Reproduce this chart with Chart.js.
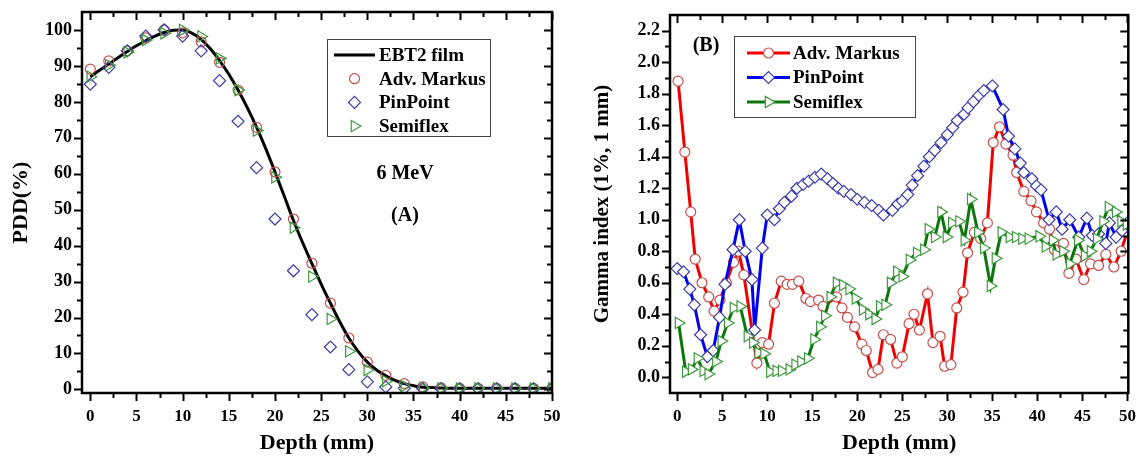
<!DOCTYPE html>
<html>
<head>
<meta charset="utf-8">
<title>PDD and gamma index</title>
<script src="https://cdn.jsdelivr.net/npm/chart.js@4.4.1/dist/chart.umd.min.js"></script>
<style>
  html, body { margin: 0; padding: 0; background: #fff; }
  #wrap { position: relative; width: 1136px; height: 457px; overflow: hidden; }
  .panel { position: absolute; top: 0; width: 568px; height: 457px; }
</style>
</head>
<body>
<div id="wrap">
  <div class="panel" style="left:0"><canvas id="pdd" width="568" height="457"></canvas></div>
  <div class="panel" style="left:568px"><canvas id="gamma" width="568" height="457"></canvas></div>
</div>
<script>
// ---- Panel (A): percentage depth dose, 6 MeV ----
const depthA = [0, 2, 4, 6, 8, 10, 12, 14, 16, 18, 20, 22, 24, 26, 28, 30, 32, 34, 36, 38, 40, 42, 44, 46, 48, 50];
const markusA = [89.1, 91.4, 94.2, 97.8, 100, 99.2, 96.7, 91, 83.3, 72.9, 60.5, 47.4, 35.1, 24, 14.3, 7.6, 3.9, 1.6, 0.7, 0.4, 0.3, 0.3, 0.3, 0.3, 0.3, 0.3];
const pinpointA = [84.9, 89.6, 94.2, 98.3, 100, 98.3, 94.2, 85.9, 74.6, 61.7, 47.4, 33, 20.8, 11.8, 5.5, 2.1, 0.7, 0.3, 0.2, 0.2, 0.2, 0.2, 0.2, 0.2, 0.2, 0.2];
const semiflexA = [87, 90.2, 93.8, 97.2, 99.1, 100, 98.2, 92.1, 83.3, 72, 59, 45, 31.4, 19.6, 10.6, 5.4, 2.3, 0.9, 0.4, 0.3, 0.3, 0.3, 0.3, 0.3, 0.3, 0.3];
const filmDepth = [0, 1, 2, 3, 4, 5, 6, 7, 8, 9, 10, 11, 12, 13, 14, 15, 16, 17, 18, 19, 20, 21, 22, 23, 24, 25, 26, 27, 28, 29, 30, 31, 32, 33, 34, 35, 36, 37, 38, 40, 42, 44, 46, 48, 50];
const filmPdd = [87, 88.8, 90.5, 92.3, 94, 95.6, 97, 98.3, 99.3, 99.9, 100, 99.1, 97.4, 94.8, 91.5, 87.7, 83.3, 78.4, 73, 67, 60.5, 53.8, 47, 40.8, 35, 29.3, 24, 18.9, 14.3, 10.6, 7.6, 5.4, 3.8, 2.5, 1.6, 1, 0.6, 0.5, 0.4, 0.3, 0.3, 0.3, 0.3, 0.3, 0.3];

// ---- Panel (B): gamma index (1%, 1 mm) ----
const markusDepthB = [0.1, 0.85, 1.5, 2.0, 2.75, 3.5, 4.1, 4.75, 5.45, 6.25, 6.8, 7.4, 8.85, 9.45, 10.15, 10.8, 11.55, 12.2, 12.8, 13.5, 14.3, 14.8, 15.7, 16.2, 17.7, 18.3, 18.9, 19.7, 20.5, 21.0, 21.7, 22.3, 22.9, 23.7, 24.4, 25.0, 25.75, 26.3, 26.9, 27.8, 28.4, 29.2, 29.7, 30.4, 31.05, 31.75, 32.25, 33.0, 33.7, 34.45, 35.1, 35.8, 36.5, 37.3, 37.7, 38.5, 39.3, 39.9, 40.7, 41.35, 41.9, 42.9, 43.5, 44.3, 45.15, 45.9, 46.8, 47.6, 48.5, 49.3, 49.95];
const markusGammaB = [1.88, 1.43, 1.05, 0.75, 0.60, 0.51, 0.42, 0.49, 0.60, 0.73, 0.80, 0.65, 0.09, 0.22, 0.21, 0.47, 0.61, 0.59, 0.59, 0.61, 0.50, 0.48, 0.49, 0.45, 0.51, 0.44, 0.38, 0.32, 0.21, 0.17, 0.03, 0.05, 0.27, 0.24, 0.09, 0.13, 0.34, 0.40, 0.30, 0.53, 0.22, 0.26, 0.07, 0.08, 0.44, 0.54, 0.79, 0.92, 0.88, 0.98, 1.49, 1.59, 1.48, 1.41, 1.30, 1.18, 1.12, 1.05, 0.98, 0.94, 0.81, 0.85, 0.66, 0.75, 0.62, 0.72, 0.71, 0.78, 0.70, 0.80, 0.92];

const pinpointDepthB = [0.0, 0.7, 1.4, 1.9, 2.6, 3.35, 4.0, 4.7, 5.3, 6.2, 6.9, 7.55, 8.3, 8.6, 9.45, 10.0, 10.8, 11.35, 11.9, 12.7, 13.3, 14.0, 14.6, 15.3, 16.0, 16.7, 17.3, 17.9, 18.5, 19.3, 20.0, 20.8, 21.6, 22.4, 22.9, 23.9, 24.5, 25.0, 25.6, 26.1, 26.7, 27.4, 28.0, 28.6, 29.3, 30.0, 30.6, 31.1, 31.85, 32.3, 32.9, 33.5, 34.05, 35.0, 36.2, 36.8, 37.5, 38.1, 38.5, 39.4, 39.9, 40.4, 41.3, 42.1, 42.75, 43.6, 44.6, 45.5, 46.1, 46.8, 47.6, 48.0, 48.75, 49.4, 50.0];
const pinpointGammaB = [0.69, 0.67, 0.56, 0.46, 0.27, 0.13, 0.17, 0.38, 0.59, 0.81, 1.00, 0.80, 0.62, 0.30, 0.82, 1.03, 1.00, 1.07, 1.11, 1.15, 1.20, 1.225, 1.245, 1.27, 1.29, 1.26, 1.23, 1.20, 1.18, 1.16, 1.13, 1.11, 1.09, 1.06, 1.03, 1.06, 1.10, 1.12, 1.16, 1.22, 1.28, 1.34, 1.40, 1.44, 1.49, 1.54, 1.585, 1.63, 1.67, 1.71, 1.75, 1.79, 1.82, 1.85, 1.70, 1.53, 1.45, 1.36, 1.30, 1.26, 1.215, 1.19, 1.00, 1.05, 0.94, 1.00, 0.89, 1.01, 0.90, 0.91, 0.85, 0.98, 0.89, 0.93, 0.98];

const semiflexDepthB = [0.15, 0.95, 1.6, 2.25, 2.9, 3.45, 4.3, 4.9, 5.6, 6.25, 7.0, 7.8, 8.4, 9.0, 9.65, 10.3, 11.0, 11.6, 12.45, 13.1, 13.75, 14.5, 15.2, 15.85, 16.4, 17.0, 17.7, 18.4, 19.1, 19.8, 20.6, 21.3, 22.0, 22.5, 23.1, 23.7, 24.4, 25.0, 25.8, 26.6, 27.4, 27.9, 28.6, 29.3, 29.9, 30.5, 31.3, 31.9, 32.6, 33.4, 34.05, 34.8, 35.35, 36.0, 36.9, 37.6, 38.3, 39.0, 40.2, 40.9, 41.7, 42.1, 42.85, 43.6, 44.5, 45.25, 45.9, 46.6, 47.3, 47.9, 48.7, 49.3, 49.9];
const semiflexGammaB = [0.345, 0.035, 0.05, 0.12, 0.04, 0.02, 0.10, 0.23, 0.345, 0.44, 0.45, 0.26, 0.22, 0.155, 0.15, 0.035, 0.04, 0.04, 0.05, 0.08, 0.10, 0.12, 0.24, 0.32, 0.39, 0.51, 0.60, 0.585, 0.56, 0.50, 0.43, 0.40, 0.37, 0.45, 0.46, 0.60, 0.67, 0.64, 0.745, 0.79, 0.81, 0.94, 0.89, 1.05, 0.89, 0.98, 0.99, 0.87, 1.13, 0.92, 0.82, 0.58, 0.755, 0.92, 0.89, 0.89, 0.88, 0.88, 0.895, 0.83, 0.87, 0.78, 0.80, 0.72, 0.87, 0.77, 0.80, 0.88, 0.99, 1.08, 1.05, 0.99, 0.97];

// ---- tick labels ----
const depthTicks = [0, 5, 10, 15, 20, 25, 30, 35, 40, 45, 50];
const pddTicks = [0, 10, 20, 30, 40, 50, 60, 70, 80, 90, 100];
const gammaTicks = [0.0, 0.2, 0.4, 0.6, 0.8, 1.0, 1.2, 1.4, 1.6, 1.8, 2.0, 2.2];

const SERIF = "'Liberation Serif', 'Times New Roman', serif";

function pairs(xs, ys) {
  return xs.map((x, i) => ({ x: x, y: ys[i] }));
}

// same shapes as Chart.js point styles, used for the legend samples
function markerPath(ctx, style, x, y, r, rot) {
  ctx.beginPath();
  if (style === 'circle') {
    ctx.arc(x, y, r, 0, Math.PI * 2);
  } else if (style === 'rectRot') {
    ctx.moveTo(x - r, y);
    ctx.lineTo(x, y - r);
    ctx.lineTo(x + r, y);
    ctx.lineTo(x, y + r);
    ctx.closePath();
  } else if (style === 'triangle') {
    let a = (rot || 0) * Math.PI / 180;
    for (let k = 0; k < 3; k++) {
      const px = x + Math.sin(a) * r, py = y - Math.cos(a) * r;
      if (k === 0) ctx.moveTo(px, py); else ctx.lineTo(px, py);
      a += 2 * Math.PI / 3;
    }
    ctx.closePath();
  }
}

// Origin-style frame: box, mirrored major/minor ticks, legend box and notes
const originFrame = {
  id: 'originFrame',
  afterDraw(chart, args, opts) {
    const ctx = chart.ctx;
    const a = chart.chartArea;
    const xs = chart.scales.x, ys = chart.scales.y;
    ctx.save();
    ctx.strokeStyle = '#000';
    ctx.lineWidth = 2;
    ctx.beginPath();
    for (let v = opts.xFrom; v <= opts.xTo + 1e-9; v += opts.xMinor) {
      const major = Math.abs(v / opts.xMajor - Math.round(v / opts.xMajor)) < 1e-6;
      const len = major ? 8 : 5;
      const px = Math.round(xs.getPixelForValue(v)) + 0.5;
      ctx.moveTo(px, a.bottom); ctx.lineTo(px, a.bottom + len);
      ctx.moveTo(px, a.top); ctx.lineTo(px, a.top + len);
    }
    for (let v = opts.yFrom; v <= opts.yTo + 1e-9; v += opts.yMinor) {
      const major = Math.abs(v / opts.yMajor - Math.round(v / opts.yMajor)) < 1e-6;
      const len = major ? 8 : 5;
      const py = Math.round(ys.getPixelForValue(v)) + 0.5;
      ctx.moveTo(a.left, py); ctx.lineTo(a.left - len, py);
      ctx.moveTo(a.right, py); ctx.lineTo(a.right - len, py);
    }
    ctx.stroke();
    ctx.lineWidth = 2.5;
    ctx.strokeRect(a.left, a.top, a.right - a.left, a.bottom - a.top);

    // legend
    const lg = opts.legend;
    ctx.lineWidth = 1;
    ctx.strokeStyle = '#444';
    ctx.fillStyle = '#fff';
    ctx.fillRect(lg.x, lg.y, lg.w, lg.h);
    ctx.strokeRect(lg.x + 0.5, lg.y + 0.5, lg.w, lg.h);
    ctx.font = 'bold 19px ' + SERIF;
    ctx.textBaseline = 'middle';
    ctx.textAlign = 'left';
    chart.data.datasets.forEach((ds, i) => {
      const cy = lg.y + lg.first + i * lg.step;
      const x0 = lg.x + lg.sample0, x1 = lg.x + lg.sample1;
      if (ds.showLine) {
        ctx.strokeStyle = ds.borderColor;
        ctx.lineWidth = ds.borderWidth;
        ctx.beginPath(); ctx.moveTo(x0, cy); ctx.lineTo(x1, cy); ctx.stroke();
      }
      if (ds.pointRadius > 0) {
        markerPath(ctx, ds.pointStyle, (x0 + x1) / 2, cy, ds.pointRadius, ds.pointRotation);
        ctx.fillStyle = '#fff';
        if (ds.pointBackgroundColor !== 'rgba(0,0,0,0)') ctx.fill();
        ctx.strokeStyle = ds.pointBorderColor;
        ctx.lineWidth = ds.pointBorderWidth;
        ctx.stroke();
      }
      ctx.fillStyle = '#000';
      ctx.fillText(ds.label, lg.x + lg.text, cy + 1);
    });

    // notes
    ctx.font = 'bold 20px ' + SERIF;
    ctx.textAlign = 'center';
    ctx.fillStyle = '#000';
    (opts.notes || []).forEach(n => ctx.fillText(n.text, n.x, n.y));
    ctx.restore();
  }
};

function axisX(minV, maxV, title) {
  return {
    type: 'linear', min: minV, max: maxV,
    grid: { display: false, drawTicks: false },
    border: { display: false },
    ticks: { padding: 13, color: '#000', maxRotation: 0, font: { family: SERIF, size: 17, weight: 'bold' } },
    afterBuildTicks: s => { s.ticks = depthTicks.map(v => ({ value: v })); },
    afterFit: s => { s.height = 64; s.paddingLeft = 0; s.paddingRight = 0; },
    title: { display: true, text: title, color: '#000', padding: { top: 0, bottom: 0 },
             font: { family: SERIF, size: 22, weight: 'bold' } }
  };
}

function axisY(minV, maxV, values, fmt, width, title, titleSize, titlePad) {
  return {
    type: 'linear', min: minV, max: maxV,
    grid: { display: false, drawTicks: false },
    border: { display: false },
    ticks: { padding: 10, color: '#000', font: { family: SERIF, size: 18, weight: 'bold' }, callback: fmt },
    afterBuildTicks: s => { s.ticks = values.map(v => ({ value: v })); },
    afterFit: s => { s.width = width; s.paddingTop = 0; s.paddingBottom = 0; },
    title: { display: true, text: title, color: '#000', padding: { top: titlePad, bottom: 0 },
             font: { family: SERIF, size: titleSize, weight: 'bold' } }
  };
}

const RED_PT = '#c4504c', BLUE_PT = '#3c3ca8', GREEN_PT = '#3e9a3e';

new Chart(document.getElementById('pdd'), {
  type: 'scatter',
  data: {
    datasets: [
      { label: 'EBT2 film', data: pairs(filmDepth, filmPdd), showLine: true, borderColor: '#000', borderWidth: 3,
        pointRadius: 0, cubicInterpolationMode: 'monotone', order: 4 },
      { label: 'Adv. Markus', data: pairs(depthA, markusA), showLine: false, pointStyle: 'circle', pointRadius: 5, order: 3,
        pointBorderColor: RED_PT, pointBackgroundColor: 'rgba(0,0,0,0)', pointBorderWidth: 1.2, borderColor: RED_PT },
      { label: 'PinPoint', data: pairs(depthA, pinpointA), showLine: false, pointStyle: 'rectRot', pointRadius: 6, order: 2,
        pointBorderColor: BLUE_PT, pointBackgroundColor: 'rgba(0,0,0,0)', pointBorderWidth: 1.2, borderColor: BLUE_PT },
      { label: 'Semiflex', data: pairs(depthA, semiflexA), showLine: false, pointStyle: 'triangle', pointRotation: 90, pointRadius: 6.5, order: 1,
        pointBorderColor: GREEN_PT, pointBackgroundColor: 'rgba(0,0,0,0)', pointBorderWidth: 1.2, borderColor: GREEN_PT }
    ]
  },
  options: {
    responsive: false, animation: false,
    layout: { padding: { top: 12, right: 16, bottom: 0, left: 0 } },
    scales: {
      x: axisX(-0.9, 50, 'Depth (mm)'),
      y: axisY(-1, 105, pddTicks, v => String(v), 82, 'PDD(%)', 22, 8)
    },
    plugins: {
      legend: { display: false },
      tooltip: { enabled: false },
      originFrame: {
        xFrom: 0, xTo: 50, xMinor: 2.5, xMajor: 5,
        yFrom: 0, yTo: 100, yMinor: 5, yMajor: 10,
        legend: { x: 327, y: 39, w: 163, h: 97, first: 16, step: 23.7, sample0: 7, sample1: 48, text: 52 },
        notes: [{ text: '6 MeV', x: 405, y: 174 }, { text: '(A)', x: 405, y: 216 }]
      }
    }
  },
  plugins: [originFrame]
});

new Chart(document.getElementById('gamma'), {
  type: 'scatter',
  data: {
    datasets: [
      { label: 'Adv. Markus', data: pairs(markusDepthB, markusGammaB), showLine: true, borderColor: '#f00000', borderWidth: 3, order: 3,
        pointStyle: 'circle', pointRadius: 5, pointBorderColor: RED_PT, pointBackgroundColor: '#fff', pointBorderWidth: 1.2 },
      { label: 'PinPoint', data: pairs(pinpointDepthB, pinpointGammaB), showLine: true, borderColor: '#0000f0', borderWidth: 3, order: 2,
        pointStyle: 'rectRot', pointRadius: 6, pointBorderColor: BLUE_PT, pointBackgroundColor: '#fff', pointBorderWidth: 1.2 },
      { label: 'Semiflex', data: pairs(semiflexDepthB, semiflexGammaB), showLine: true, borderColor: '#0b760b', borderWidth: 3, order: 1,
        pointStyle: 'triangle', pointRotation: 90, pointRadius: 6.5, pointBorderColor: GREEN_PT, pointBackgroundColor: '#fff', pointBorderWidth: 1.2 }
    ]
  },
  options: {
    responsive: false, animation: false,
    layout: { padding: { top: 15, right: 7, bottom: 0, left: 0 } },
    scales: {
      x: axisX(-0.8, 50.1, 'Depth (mm)'),
      y: axisY(-0.1, 2.3, gammaTicks, v => v.toFixed(1), 102, 'Gamma index (1%, 1 mm)', 21, 22)
    },
    plugins: {
      legend: { display: false },
      tooltip: { enabled: false },
      originFrame: {
        xFrom: 0, xTo: 50, xMinor: 2.5, xMajor: 5,
        yFrom: 0, yTo: 2.2, yMinor: 0.1, yMajor: 0.2,
        legend: { x: 166, y: 36, w: 181, h: 81, first: 17, step: 24.5, sample0: 13, sample1: 56, text: 59 },
        notes: [{ text: '(B)', x: 138, y: 46 }]
      }
    }
  },
  plugins: [originFrame]
});
</script>
</body>
</html>
